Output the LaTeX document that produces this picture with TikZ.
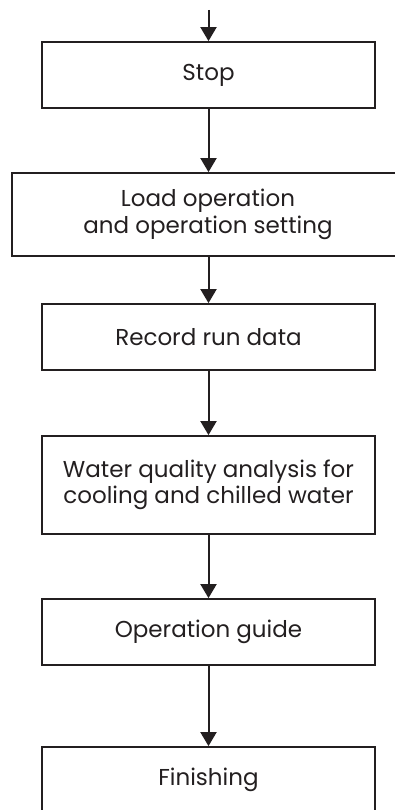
\documentclass[tikz,border=0pt]{standalone}
\usepackage{fontspec}
\setmainfont[Ligatures=NoCommon]{Poppins}
\usetikzlibrary{arrows.meta}
\definecolor{ink}{HTML}{231F20}
\begin{document}
\begin{tikzpicture}[x=1pt,y=-1pt,
  box/.style={draw=ink, line width=1.8pt, rectangle, minimum width=333pt, minimum height=66pt,
    align=center, inner sep=0pt, text=ink, font=\fontsize{23}{26.5}\selectfont},
  flow/.style={draw=ink, line width=2pt, -{Triangle[width=16pt,length=14pt]}}]
\useasboundingbox (0,0) rectangle (395,810);
\coordinate (in) at (208.5,10);
\node[box] (stop) at (208.5,75) {Stop};
\node[box, minimum width=392pt, minimum height=83pt] (load) at (208,214.5) {Load operation\\and operation setting};
\node[box] (rec) at (208.5,337) {Record run data};
\node[box, minimum height=98pt] (water) at (208.5,485) {Water quality analysis for\\cooling and chilled water};
\node[box] (guide) at (208.5,632) {Operation guide};
\node[box] (fin) at (208.5,780) {Finishing};
\draw[flow] (in) -- (stop.north);
\draw[flow] (stop.south) -- (stop.south |- load.north);
\draw[flow] (stop.south |- load.south) -- (rec.north);
\draw[flow] (rec) -- (water);
\draw[flow] (water) -- (guide);
\draw[flow] (guide) -- (fin);
\end{tikzpicture}
\end{document}
